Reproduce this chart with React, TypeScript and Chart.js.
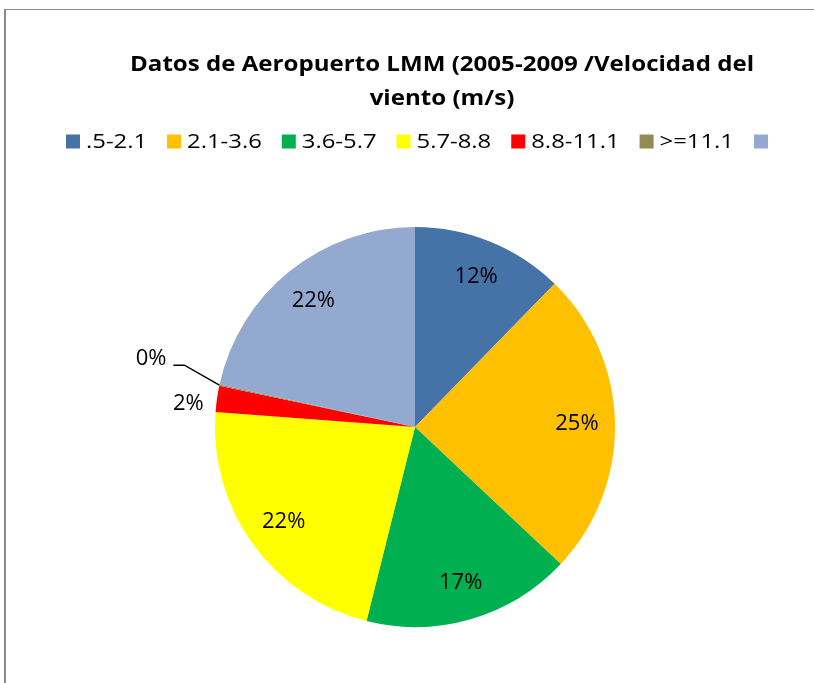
import { useEffect, useRef } from 'react';
import { Chart, registerables } from 'chart.js';

Chart.register(...registerables);

const titleLines = ['Datos de Aeropuerto LMM (2005-2009 /Velocidad del', 'viento (m/s)'];
const categories = ['.5-2.1', '2.1-3.6', '3.6-5.7', '5.7-8.8', '8.8-11.1', '>=11.1', ''];
const values = [12.3, 24.7, 16.9, 22.3, 2.1, 0.1, 21.6];
const colors = ['#4572A7', '#FFC000', '#00B050', '#FFFF00', '#FF0000', '#948A54', '#93A9D0'];

function drawText(ctx: CanvasRenderingContext2D, text: string, x: number, y: number, align: CanvasTextAlign, sx: number) {
  ctx.save();
  ctx.translate(x, y);
  ctx.scale(sx, 1);
  ctx.textAlign = align;
  ctx.fillText(text, 0, 0);
  ctx.restore();
}

const overlay = {
  id: 'overlay',
  afterDraw(chart: any) {
    const ctx = chart.ctx as CanvasRenderingContext2D;
    ctx.save();
    ctx.fillStyle = '#000';
    ctx.textBaseline = 'middle';

    // title (spans 130..754 in the reference)
    ctx.font = 'bold 22px "Open Sans"';
    const tsx = 624 / ctx.measureText(titleLines[0]).width;
    titleLines.forEach((t, i) => drawText(ctx, t, 442, 65 + i * 34, 'center', tsx));

    // legend (spans 66..768)
    ctx.font = '20px "Open Sans"';
    const box = 14, gap = 6, space = 20;
    const natural = categories.map((c) => (c ? ctx.measureText(c).width : 0));
    const textTotal = natural.reduce((a, b) => a + b, 0);
    const nonEmpty = categories.filter((c) => c).length;
    const fixed = box * categories.length + gap * nonEmpty + space * (categories.length - 1);
    const lsx = (702 - fixed) / textTotal;
    let lx = 66;
    const ly = 141.5;
    categories.forEach((c, i) => {
      ctx.fillStyle = colors[i];
      ctx.fillRect(lx, ly - box / 2, box, box);
      ctx.fillStyle = '#000';
      let w = box;
      if (c) {
        drawText(ctx, c, lx + box + gap, ly + 1, 'left', lsx);
        w += gap + natural[i] * lsx;
      }
      lx += w + space;
    });

    // data labels
    const meta = chart.getDatasetMeta(0);
    const sum = values.reduce((a, b) => a + b, 0);
    ctx.font = '22px "Open Sans"';
    meta.data.forEach((arc: any, i: number) => {
      const p = arc.getProps(['x', 'y', 'startAngle', 'endAngle', 'outerRadius'], true);
      const mid = (p.startAngle + p.endAngle) / 2;
      const frac = values[i] / sum;
      const pct = Math.round(frac * 100) + '%';
      const c = Math.cos(mid), s = Math.sin(mid);
      ctx.fillStyle = '#000';
      if (frac >= 0.05) {
        drawText(ctx, pct, p.x + c * p.outerRadius * 0.81, p.y + s * p.outerRadius * 0.81, 'center', 1);
      } else if (frac >= 0.01) {
        drawText(ctx, pct, p.x + c * (p.outerRadius + 29), p.y + s * (p.outerRadius + 29) + 9, 'center', 1);
      } else {
        const ex = p.x + c * p.outerRadius, ey = p.y + s * p.outerRadius;
        const bx = ex - 35, by = ey - 20;
        ctx.strokeStyle = '#000';
        ctx.lineWidth = 1.5;
        ctx.beginPath();
        ctx.moveTo(ex, ey);
        ctx.lineTo(bx, by);
        ctx.lineTo(bx - 11, by);
        ctx.stroke();
        drawText(ctx, pct, bx - 18, by - 6, 'right', 1);
      }
    });
    ctx.restore();
  },
};

export default function App() {
  const ref = useRef<HTMLCanvasElement>(null);
  useEffect(() => {
    if (!ref.current) return;
    const chart = new Chart(ref.current, {
      type: 'pie',
      data: {
        labels: categories,
        datasets: [{ data: values, backgroundColor: colors, borderWidth: 0 }],
      },
      options: {
        responsive: false,
        animation: false,
        events: [],
        layout: { padding: { top: 227, bottom: 56, left: 215, right: 199 } },
        plugins: { legend: { display: false }, tooltip: { enabled: false }, title: { display: false } },
      },
      plugins: [overlay],
    });
    return () => chart.destroy();
  }, []);
  return (
    <div style={{ position: 'fixed', left: 0, top: 0, width: 814, height: 683, overflow: 'hidden', background: '#fff' }}>
      <div
        style={{
          position: 'absolute',
          left: 4,
          top: 9,
          width: 900,
          height: 900,
          borderLeft: '2px solid #8b8b8b',
          borderTop: '1px solid #8b8b8b',
        }}
      />
      <canvas ref={ref} width={814} height={683} style={{ position: 'absolute', left: 0, top: 0 }} />
    </div>
  );
}
